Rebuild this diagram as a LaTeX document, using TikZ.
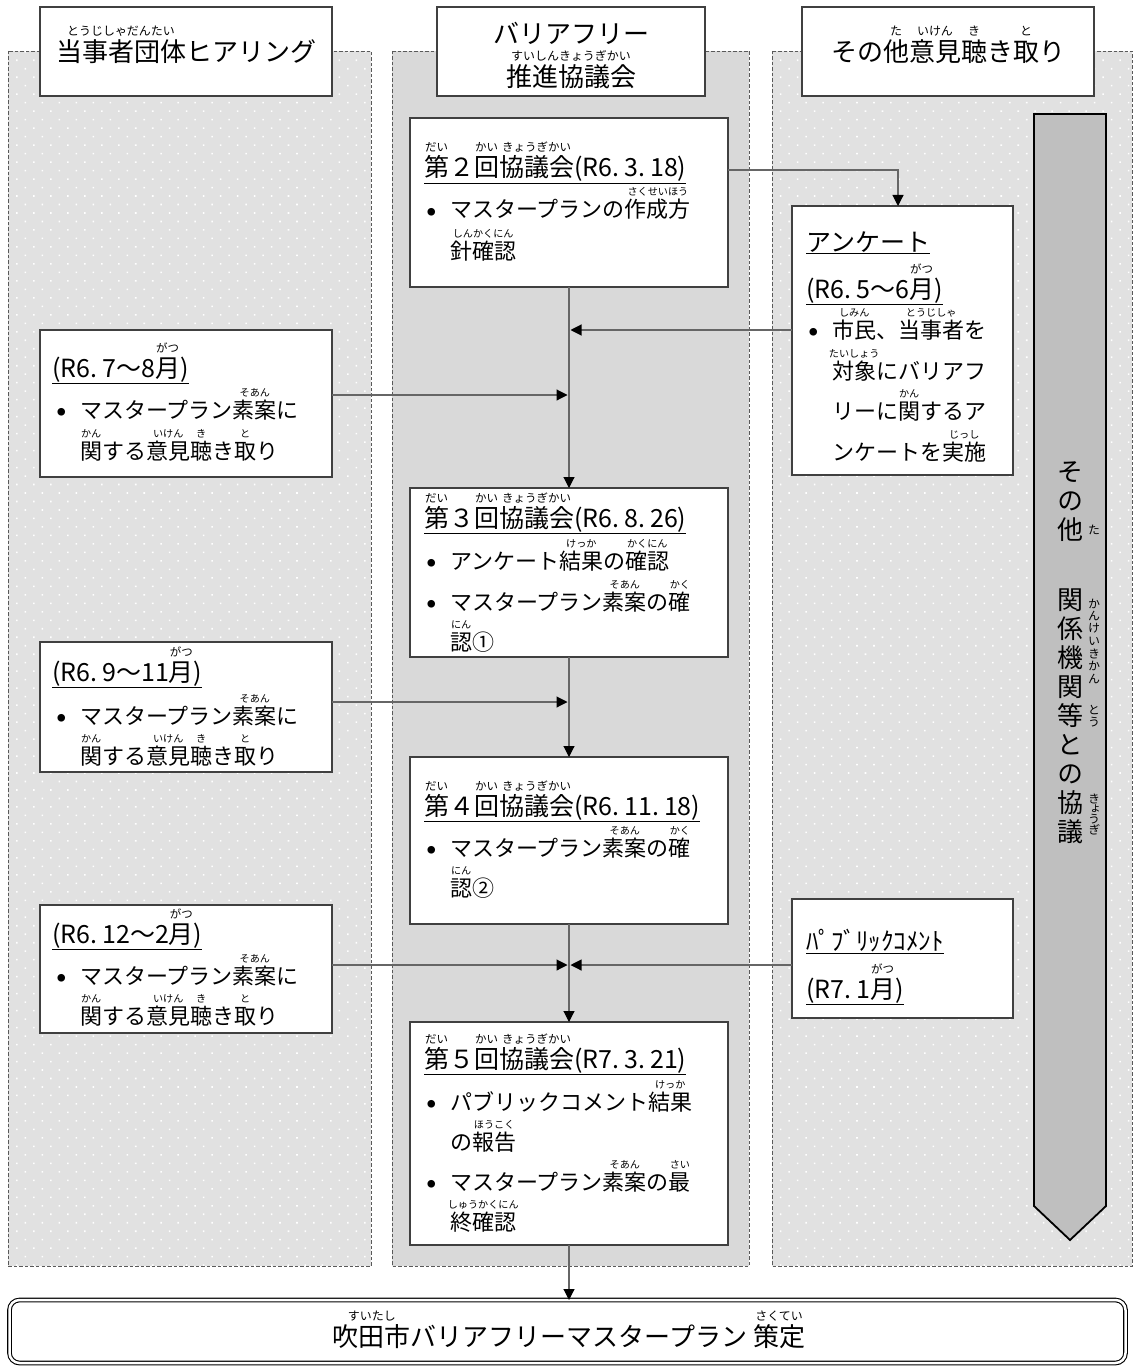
\documentclass[tikz,border=0pt]{standalone}
\usepackage{fontspec}
\setmainfont{Noto Sans CJK JP}
\newfontfamily\vjp[RawFeature={+vert}]{Noto Sans CJK JP}
\usetikzlibrary{arrows.meta}
\usetikzlibrary{patterns.meta}

\definecolor{dashgray}{HTML}{595959}
\definecolor{midgray}{HTML}{D9D9D9}
\definecolor{sidegray}{HTML}{E1E1E1}
\definecolor{boxgray}{HTML}{404040}
\definecolor{conngray}{HTML}{666666}
\definecolor{arrowgray}{HTML}{BFBFBF}

\makeatletter
\newcommand{\rb}[2]{\leavevmode\setbox0\hbox{#1}%
  \edef\rbsize{\fpeval{0.46*\f@size}}%
  \rlap{\hbox to\wd0{\hss\raisebox{1.0em}[0pt][0pt]{\fontsize{\rbsize}{\rbsize}\selectfont #2}\hss}}\box0}
\makeatother
\newcommand{\itemdot}{\makebox[24pt][l]{\hspace{1pt}\raisebox{2.5pt}{\fontsize{8.5}{8.5}\selectfont ●}}}
\newcommand{\pdot}{.\kern5pt}

\begin{document}
\begin{tikzpicture}[x=1pt,y=-1pt,
	panel/.style={draw=dashgray,line width=0.9pt,dash pattern=on 3.5pt off 2pt},
	box/.style={draw=boxgray,fill=white,line width=1.1pt,inner sep=0pt,outer sep=0pt},
	conn/.style={draw=conngray,line width=1.1pt,-{Triangle[length=11pt,width=11pt,color=black]}},
	hdr/.style={anchor=base,inner sep=0pt,font=\fontsize{26}{30}\selectfont},
	ttl/.style={anchor=base west,inner sep=0pt,font=\fontsize{25}{30}\selectfont},
	txt/.style={anchor=base west,inner sep=0pt,font=\fontsize{22}{26}\selectfont},
	vtxt/.style={inner sep=0pt,font=\vjp\fontsize{26}{30}\selectfont},
	vrb/.style={inner sep=0pt,font=\vjp\fontsize{12}{14}\selectfont}]
		\useasboundingbox (0,0) rectangle (1136,1367);
		\fill[white] (0,0) rectangle (1136,1367);
		\fill[sidegray] (8,51) rectangle (371,1266);
		\fill[pattern={Dots[distance=12pt,radius=1.1pt,angle=45]},pattern color=white] (8,51) rectangle (371,1266);
		\draw[panel] (8,51) rectangle (371,1266);
		\fill[midgray] (392,51) rectangle (749,1266);
		\draw[panel] (392,51) rectangle (749,1266);
		\fill[sidegray] (772,51) rectangle (1132,1266);
		\fill[pattern={Dots[distance=12pt,radius=1.1pt,angle=45]},pattern color=white] (772,51) rectangle (1132,1266);
		\draw[panel] (772,51) rectangle (1132,1266);

		\node[box,minimum width=292pt,minimum height=89pt] (hl) at (186,51.5) {};
		\node[box,minimum width=268pt,minimum height=89pt] (hm) at (571,51.5) {};
		\node[box,minimum width=292pt,minimum height=89pt] (hr) at (948,51.5) {};
		\node[hdr] (hlt) at (186,62) {\rb{当事者団体}{とうじしゃだんたい}ヒアリング};
		\node[hdr] (hmt) at (571,44) {バリアフリー};
		\node[hdr] (hmu) at (571,87) {\rb{推進協議会}{すいしんきょうぎかい}};
		\node[hdr] (hrt) at (948,62) {その\rb{他}{た}\rb{意見}{いけん}\rb{聴}{き}き\rb{取}{と}り};

		\draw[fill=arrowgray,line width=1.8pt] (1034,114) -- (1106,114) -- (1106,1206) -- (1070,1240) -- (1034,1206) -- cycle;
		\foreach \c [count=\i] in {そ,の,他}
			\node[vtxt] (va\i) at (1070,443+29*\i) {\c};
		\foreach \c [count=\i from 0] in {関,係,機,関,等,と,の,協,議}
			\node[vtxt] (vb\i) at (1070,600+29*\i) {\c};
		\node[vrb] (vc) at (1094,530) {た};
		\foreach \c [count=\i] in {か,ん,け,い,き,か,ん}
			\node[vrb] (vd\i) at (1094,591+12.5*\i) {\c};
		\foreach \c [count=\i] in {と,う}
			\node[vrb] (ve\i) at (1094,698+12*\i) {\c};
		\foreach \c [count=\i] in {き,ょ,う,ぎ}
			\node[vrb] (vf\i) at (1094,788+10.5*\i) {\c};

		\node[box,minimum width=318pt,minimum height=169pt] (k2) at (569,202.5) {};
		\node[box,minimum width=318pt,minimum height=169pt] (k3) at (569,572.5) {};
		\node[box,minimum width=318pt,minimum height=167pt] (k4) at (569,840.5) {};
		\node[box,minimum width=318pt,minimum height=223pt] (k5) at (569,1133.5) {};
		\node[box,minimum width=292pt,minimum height=147pt] (l1) at (186,403.5) {};
		\node[box,minimum width=292pt,minimum height=130pt] (l2) at (186,707) {};
		\node[box,minimum width=292pt,minimum height=128pt] (l3) at (186,969) {};
		\node[box,minimum width=221pt,minimum height=269pt] (enq) at (902.5,340.5) {};
		\node[box,minimum width=221pt,minimum height=119pt] (pub) at (902.5,958.5) {};
		\node[draw=black,fill=white,double,double distance=2.5pt,line width=1.1pt,rounded corners=10pt,
			minimum width=1116pt,minimum height=63pt,inner sep=0pt,outer sep=0pt] (fin) at (567.5,1331.5) {};

		\coordinate (j1) at (570.5,330);
		\coordinate (j2) at (567.5,395);
		\coordinate (j3) at (567.5,702);
		\coordinate (j4) at (567.5,965);
		\coordinate (j5) at (570.5,965);
		\draw[conn] ([yshift=-52pt]k2.north east) -| ([xshift=-4.5pt]enq.north);
		\draw[conn] (k2.south) -- (k3.north);
		\draw[conn] (k3.south) -- (k4.north);
		\draw[conn] (k4.south) -- (k5.north);
		\draw[conn] (k5.south) -- (k5.south |- fin.north);
		\draw[conn] (enq.west |- j1) -- (j1);
		\draw[conn] (l1.east |- j2) -- (j2);
		\draw[conn] (l2.east |- j3) -- (j3);
		\draw[conn] (l3.east |- j4) -- (j4);
		\draw[conn] (pub.west |- j5) -- (j5);

		\node[ttl] (k2a) at (424,177) {\underline{\rb{第}{だい}２\rb{回}{かい}\rb{協議会}{きょうぎかい}(R6\pdot 3\pdot 18)}};
		\node[txt] (k2b) at (426,218) {\itemdot マスタープランの\rb{作成方}{さくせいほう}};
		\node[txt] (k2c) at (450,259) {\rb{針確認}{しんかくにん}};

		\node[ttl] (k3a) at (424,527) {\underline{\rb{第}{だい}３\rb{回}{かい}\rb{協議会}{きょうぎかい}(R6\pdot 8\pdot 26)}};
		\node[txt] (k3b) at (426,569) {\itemdot アンケート\rb{結果}{けっか}の\rb{確認}{かくにん}};
		\node[txt] (k3c) at (426,610) {\itemdot マスタープラン\rb{素案}{そあん}の\rb{確}{かく}};
		\node[txt] (k3d) at (450,650) {\rb{認}{にん}①};

		\node[ttl] (k4a) at (424,815) {\underline{\rb{第}{だい}４\rb{回}{かい}\rb{協議会}{きょうぎかい}(R6\pdot 11\pdot 18)}};
		\node[txt] (k4b) at (426,856) {\itemdot マスタープラン\rb{素案}{そあん}の\rb{確}{かく}};
		\node[txt] (k4c) at (450,896) {\rb{認}{にん}②};

		\node[ttl] (k5a) at (424,1068) {\underline{\rb{第}{だい}５\rb{回}{かい}\rb{協議会}{きょうぎかい}(R7\pdot 3\pdot 21)}};
		\node[txt] (k5b) at (426,1110) {\itemdot パブリックコメント\rb{結果}{けっか}};
		\node[txt] (k5c) at (450,1150) {の\rb{報告}{ほうこく}};
		\node[txt] (k5d) at (426,1190) {\itemdot マスタープラン\rb{素案}{そあん}の\rb{最}{さい}};
		\node[txt] (k5e) at (450,1230) {\rb{終確認}{しゅうかくにん}};

		\node[ttl] (l1a) at (52,377) {\underline{(R6\pdot 7～8\rb{月}{がつ})}};
		\node[txt] (l1b) at (56,418) {\itemdot マスタープラン\rb{素案}{そあん}に};
		\node[txt] (l1c) at (80,459) {\rb{関}{かん}する\rb{意見}{いけん}\rb{聴}{き}き\rb{取}{と}り};

		\node[ttl] (l2a) at (52,681) {\underline{(R6\pdot 9～11\rb{月}{がつ})}};
		\node[txt] (l2b) at (56,724) {\itemdot マスタープラン\rb{素案}{そあん}に};
		\node[txt] (l2c) at (80,764) {\rb{関}{かん}する\rb{意見}{いけん}\rb{聴}{き}き\rb{取}{と}り};

		\node[ttl] (l3a) at (52,943) {\underline{(R6\pdot 12～2\rb{月}{がつ})}};
		\node[txt] (l3b) at (56,984) {\itemdot マスタープラン\rb{素案}{そあん}に};
		\node[txt] (l3c) at (80,1024) {\rb{関}{かん}する\rb{意見}{いけん}\rb{聴}{き}き\rb{取}{と}り};

		\node[ttl] (enqa) at (806,251) {\underline{アンケート}};
		\node[ttl] (enqb) at (806,298) {\underline{(R6\pdot 5～6\rb{月}{がつ})}};
		\node[txt] (enqc) at (808,338) {\itemdot \rb{市民}{しみん}、\rb{当事者}{とうじしゃ}を};
		\node[txt] (enqd) at (832,379) {\rb{対象}{たいしょう}にバリアフ};
		\node[txt] (enqe) at (832,419) {リーに\rb{関}{かん}するア};
		\node[txt] (enqf) at (832,460) {ンケートを\rb{実施}{じっし}};

		\node[ttl] (puba) at (806,950) {\underline{ﾊﾟﾌﾞﾘｯｸｺﾒﾝﾄ}};
		\node[ttl] (pubb) at (806,998) {\underline{(R7\pdot 1\rb{月}{がつ})}};

		\node[hdr] (fint) at (569,1346) {\rb{吹田市}{すいたし}バリアフリーマスタープラン\ \rb{策定}{さくてい}};
	\end{tikzpicture}
\end{document}
